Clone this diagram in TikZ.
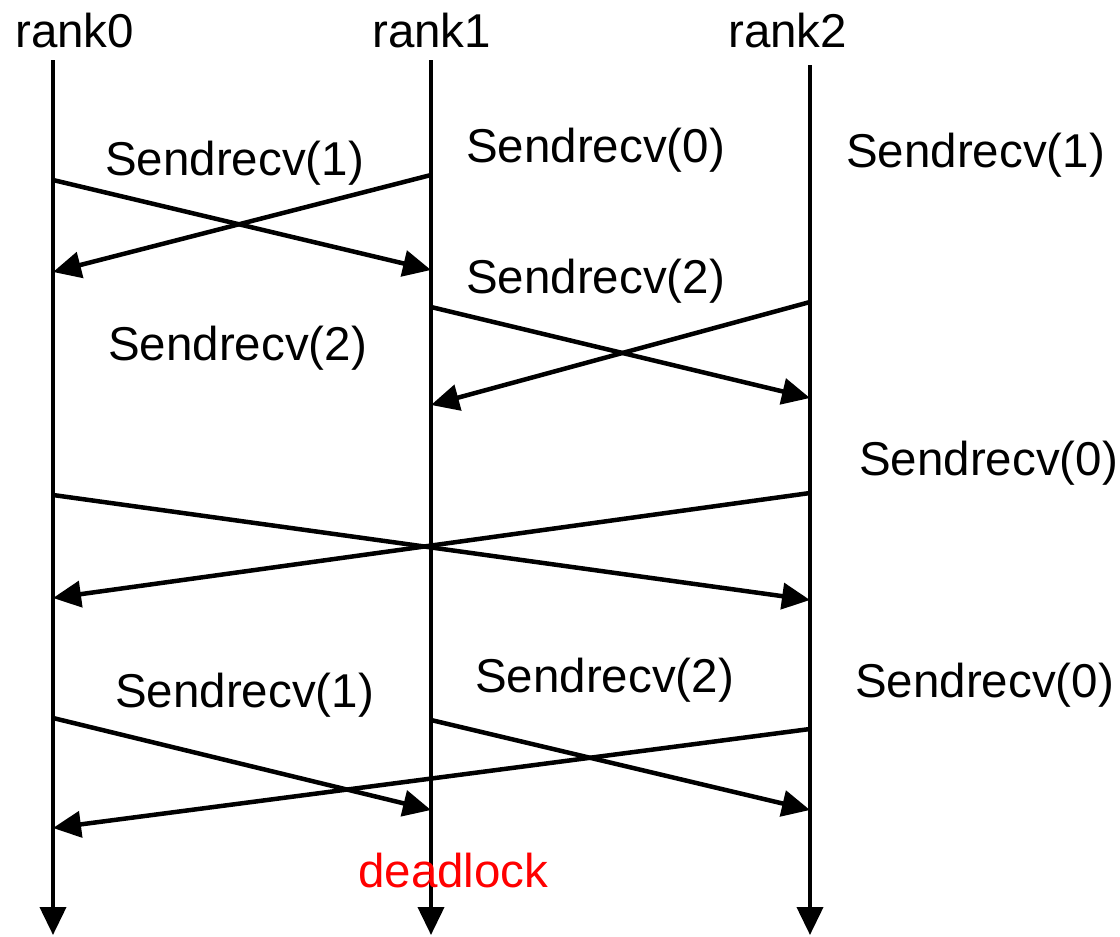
\documentclass[tikz,border=0pt]{standalone}
\usepackage{fontspec}
\setmainfont{Liberation Sans}
\usetikzlibrary{arrows.meta}
\begin{document}
\begin{tikzpicture}[x=1pt,y=-1pt,
  lbl/.style={anchor=base west,inner sep=0pt,font=\fontsize{47.5}{57}\selectfont},
  tipstyle/.style={-{Triangle[length=28pt,width=26pt]}},
  life/.style={line width=4pt,tipstyle},
  msg/.style={line width=4.5pt,tipstyle}]
\useasboundingbox (0,0) rectangle (1120,937);

% process names
\node[lbl] (n0) at (15,47) {rank0};
\node[lbl] (n1) at (372,47) {rank1};
\node[lbl] (n2) at (728,47) {rank2};

% lifelines
\coordinate (t0) at (53,60);   \coordinate (b0) at (53,935);
\coordinate (t1) at (431,60);  \coordinate (b1) at (431,935);
\coordinate (t2) at (810,65);  \coordinate (b2) at (810,935);
\draw[life] (t0) -- (b0);
\draw[life] (t1) -- (b1);
\draw[life] (t2) -- (b2);

% call labels
\node[lbl] (c01) at (105,175) {Sendrecv(1)};
\node[lbl] (c10) at (466,162) {Sendrecv(0)};
\node[lbl] (c21) at (846,167) {Sendrecv(1)};
\node[lbl] (c12) at (466,293) {Sendrecv(2)};
\node[lbl] (c02) at (108,360) {Sendrecv(2)};
\node[lbl] (c20) at (859,475) {Sendrecv(0)};
\node[lbl] (d01) at (115,707) {Sendrecv(1)};
\node[lbl] (d12) at (475,692) {Sendrecv(2)};
\node[lbl] (d20) at (855,697) {Sendrecv(0)};
\node[lbl,text=red] (dl) at (358,887) {deadlock};

% message endpoints on the lifelines
\coordinate (a0s) at (53,180);  \coordinate (a1r) at (431,270);
\coordinate (a1s) at (431,175); \coordinate (a0r) at (53,272);
\coordinate (b1s) at (431,307); \coordinate (b2r) at (810,398);
\coordinate (b2s) at (810,302); \coordinate (b1r) at (431,405);
\coordinate (c0s) at (53,495);  \coordinate (c2r) at (810,600);
\coordinate (c2s) at (810,493); \coordinate (c0r) at (53,598);
\coordinate (e0s) at (53,718);  \coordinate (e1r) at (431,810);
\coordinate (e1s) at (431,720); \coordinate (e2r) at (810,810);
\coordinate (e2s) at (810,729); \coordinate (e0r) at (53,828);

% messages
\draw[msg] (a0s) -- (a1r);
\draw[msg] (a1s) -- (a0r);
\draw[msg] (b1s) -- (b2r);
\draw[msg] (b2s) -- (b1r);
\draw[msg] (c0s) -- (c2r);
\draw[msg] (c2s) -- (c0r);
\draw[msg] (e0s) -- (e1r);
\draw[msg] (e1s) -- (e2r);
\draw[msg] (e2s) -- (e0r);
\end{tikzpicture}
\end{document}
